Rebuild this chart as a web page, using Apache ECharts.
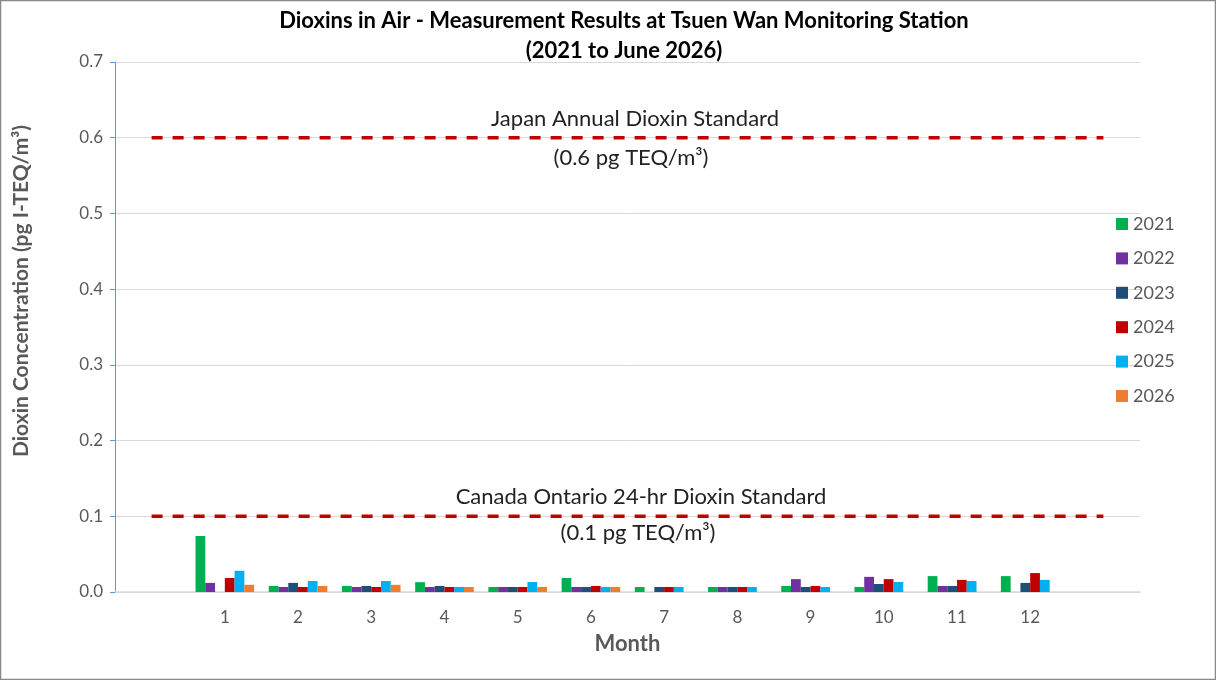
<!DOCTYPE html>
<html>
<head>
<meta charset="utf-8">
<script src="https://cdn.jsdelivr.net/npm/echarts@6/dist/echarts.min.js"></script>
<style>
  html, body { margin: 0; padding: 0; background: #fff; }
  #chart { width: 1216px; height: 680px; }
</style>
</head>
<body>
<div id="chart"></div>
<script>
// months, padded with a blank slot on each side like the original sheet
const months = ['1', '2', '3', '4', '5', '6', '7', '8', '9', '10', '11', '12'];
const years = ['2021', '2022', '2023', '2024', '2025', '2026'];
const colors = ['#00b050', '#7030a0', '#1f4e79', '#c00000', '#00b0f0', '#ed7d31'];

const y2021 = [0.074, 0.008, 0.008, 0.013, 0.0066, 0.0185, 0.0066, 0.0066, 0.008, 0.0066, 0.021, 0.021];
const y2022 = [0.012, 0.0066, 0.0066, 0.0066, 0.0066, 0.0066, null, 0.0066, 0.017, 0.020, 0.008, null];
const y2023 = [null, 0.012, 0.008, 0.008, 0.0066, 0.0066, 0.0066, 0.0066, 0.0066, 0.0106, 0.008, 0.012];
const y2024 = [0.0185, 0.0066, 0.0066, 0.0066, 0.0066, 0.008, 0.0066, 0.0066, 0.008, 0.017, 0.016, 0.025];
const y2025 = [0.028, 0.0145, 0.0145, 0.0066, 0.0132, 0.0066, 0.0066, 0.0066, 0.0066, 0.0132, 0.0145, 0.016];
const y2026 = [0.0095, 0.008, 0.0095, 0.0066, 0.0066, 0.0066, null, null, null, null, null, null];

const japanStd = 0.6;
const canadaStd = 0.1;

const yTicks = [0, 0.1, 0.2, 0.3, 0.4, 0.5, 0.6, 0.7];

const FONT = 'Lato, "Open Sans", sans-serif';
const cats = [''].concat(months, ['']);
const pad = arr => [null].concat(arr, [null]);
const yearData = [y2021, y2022, y2023, y2024, y2025, y2026];

const barSeries = years.map((yr, i) => ({
  name: yr,
  type: 'bar',
  data: pad(yearData[i]),
  barGap: '0%',
  barCategoryGap: '20%',
  itemStyle: { color: colors[i] },
  emphasis: { disabled: true }
}));

const stdLine = (v) => ({
  type: 'line',
  data: cats.map(() => v),
  symbol: 'none',
  silent: true,
  lineStyle: { color: '#c00000', width: 3.5, type: [11, 10] },
  z: 3
});

const chart = echarts.init(document.getElementById('chart'));
const option = {
  backgroundColor: '#fff',
  animation: false,
  color: colors,
  title: {
    text: 'Dioxins in Air - Measurement Results at Tsuen Wan Monitoring Station\n(2021 to June 2026)',
    left: 619,
    textAlign: 'center',
    top: 1,
    textStyle: { fontFamily: FONT, fontSize: 22, fontWeight: 'bold', color: '#000', lineHeight: 30 }
  },
  legend: {
    orient: 'vertical',
    left: 1111,
    top: 210,
    data: years,
    itemWidth: 12,
    itemHeight: 12,
    itemGap: 16.4,
    icon: 'rect',
    textStyle: { fontFamily: FONT, fontSize: 18, color: '#595959' }
  },
  grid: { left: 115, right: 76, top: 62, bottom: 88 },
  xAxis: {
    type: 'category',
    data: cats,
    name: 'Month',
    nameLocation: 'middle',
    nameGap: 41,
    nameTextStyle: { fontFamily: FONT, fontSize: 22, fontWeight: 'bold', color: '#595959' },
    axisLine: { lineStyle: { color: '#d9d9d9', width: 1.5 } },
    axisTick: { show: false },
    axisLabel: { fontFamily: FONT, fontSize: 17, color: '#595959', margin: 17 }
  },
  yAxis: {
    type: 'value',
    min: yTicks[0],
    max: yTicks[yTicks.length - 1],
    interval: 0.1,
    axisLine: { show: true, lineStyle: { color: '#5b9bd5', width: 1 } },
    axisTick: { show: true, length: 5, lineStyle: { color: '#5b9bd5' } },
    axisLabel: { fontFamily: FONT, fontSize: 17, color: '#595959', margin: 12, formatter: v => v.toFixed(1) },
    splitLine: { lineStyle: { color: '#d9d9d9', width: 1 } }
  },
  series: barSeries.concat([stdLine(japanStd), stdLine(canadaStd)]),
  graphic: [
    { type: 'rect', shape: { x: 0.5, y: 0.5, width: 1215, height: 679 }, style: { fill: null, stroke: '#898989', lineWidth: 1.5 }, silent: true },
    { type: 'text', x: 21, y: 291, rotation: Math.PI / 2, style: { text: 'Dioxin Concentration (pg I-TEQ/m³)', align: 'center', verticalAlign: 'middle', font: 'bold 21px ' + FONT, fill: '#595959' } },
    { type: 'text', x: 635, y: 119, style: { text: 'Japan Annual Dioxin Standard', align: 'center', verticalAlign: 'middle', font: '22px ' + FONT, fill: '#222' } },
    { type: 'text', x: 631, y: 158, style: { text: '(0.6 pg TEQ/m³)', align: 'center', verticalAlign: 'middle', font: '22px ' + FONT, fill: '#222' } },
    { type: 'text', x: 641, y: 497, style: { text: 'Canada Ontario 24-hr Dioxin Standard', align: 'center', verticalAlign: 'middle', font: '22px ' + FONT, fill: '#222' } },
    { type: 'text', x: 638, y: 533, style: { text: '(0.1 pg TEQ/m³)', align: 'center', verticalAlign: 'middle', font: '22px ' + FONT, fill: '#222' } }
  ]
};
chart.setOption(option);
</script>
</body>
</html>
